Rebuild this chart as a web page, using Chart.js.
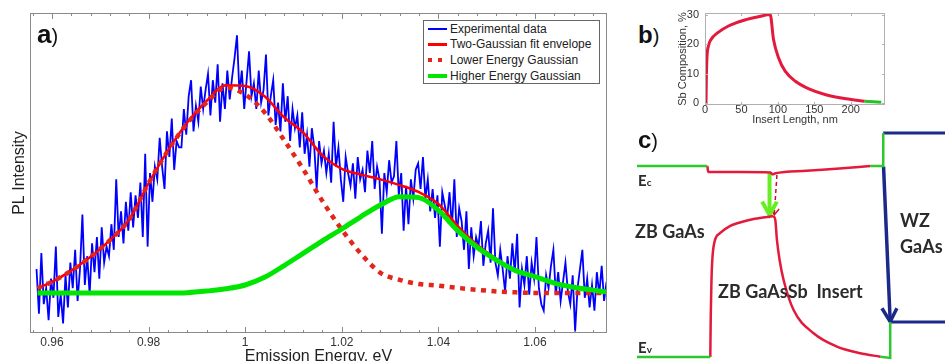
<!DOCTYPE html>
<html lang="en">
<head>
<meta charset="UTF-8">
<title>GaAsSb insert PL</title>
<script src="https://cdn.jsdelivr.net/npm/chart.js@4.4.1/dist/chart.umd.min.js"></script>
<style>
  html, body { margin: 0; padding: 0; background: #fff; }
  body { width: 945px; height: 361px; overflow: hidden; position: relative; font-family: 'Liberation Sans', Arial, sans-serif; }
  canvas { position: absolute; }
  .tag { position: absolute; line-height: 1; color: #111; white-space: nowrap; }
  .lbl { position: absolute; font-family: Lato, 'Open Sans', sans-serif; font-weight: 700; color: #2b2b2b; line-height: 1; white-space: pre; }
  #legend { position: absolute; left: 423px; top: 20px; width: 177px; height: 64px; box-sizing: border-box; border: 1px solid #666; background: #fff; font-size: 12px; color: #222; }
  #legend .row { position: absolute; left: 26px; height: 14px; line-height: 14px; white-space: nowrap; }
  #legend .mark { position: absolute; }
</style>
</head>
<body>

<canvas id="chartA" width="620" height="375" style="left:0;top:0"></canvas>
<canvas id="chartB" width="230" height="130" style="left:665px;top:0"></canvas>
<canvas id="chartC" width="308" height="241" style="left:637px;top:120px"></canvas>

<div id="legend">
  <div class="mark" style="left:4px;top:6.7px;width:19px;height:2px;background:#0000ff"></div>
  <div class="row" style="top:0.7px">Experimental data</div>
  <div class="mark" style="left:4px;top:22px;width:19px;height:2.5px;background:#ff0000"></div>
  <div class="row" style="top:16.3px">Two-Gaussian fit envelope</div>
  <div class="mark" style="left:4px;top:36.9px;width:4px;height:4px;background:#e3261b"></div>
  <div class="mark" style="left:14px;top:36.9px;width:4px;height:4px;background:#e3261b"></div>
  <div class="row" style="top:31.9px">Lower Energy Gaussian</div>
  <div class="mark" style="left:4px;top:52.5px;width:19px;height:4px;background:#00e600"></div>
  <div class="row" style="top:47.5px">Higher Energy Gaussian</div>
</div>

<div class="tag" style="left:37px;top:21px;font-size:26px"><b>a</b><span style="font-size:20px">)</span></div>
<div class="tag" style="left:638px;top:22.7px;font-size:24px"><b>b</b><span style="font-size:20px">)</span></div>
<div class="tag" style="left:638px;top:127.7px;font-size:24px"><b>c</b><span style="font-size:20px">)</span></div>

<div class="lbl" style="left:638px;top:172.5px;font-size:15px">E<span style="font-size:10px">c</span></div>
<div class="lbl" style="left:638px;top:340px;font-size:15px">E<span style="font-size:10px">v</span></div>
<div class="lbl" style="left:635px;top:222.3px;font-size:18px">ZB GaAs</div>
<div class="lbl" style="left:900px;top:210.7px;font-size:18px">WZ</div>
<div class="lbl" style="left:900px;top:237.3px;font-size:18px">GaAs</div>
<div class="lbl" style="left:718px;top:282.3px;font-size:18px">ZB GaAsSb  Insert</div>

<script>
  Chart.defaults.font.family = "'Liberation Sans', Arial, sans-serif";

  // ---- a) PL spectrum ----
  var energyTicks = [0.96, 0.98, 1.00, 1.02, 1.04, 1.06];
  var energyTickLabels = ['0.96', '0.98', '1', '1.02', '1.04', '1.06'];

  // experimental spectrum, one point every 0.5 meV from 0.9568 eV
  var expStart = 0.9568, expStep = 0.0005;
  var expIntensity = [
    20, 6, 25, 9, 14, 4, 17, 11, 27, 5,
    12, 3, 18, 8, 22, 14, 26, 10, 20, 37,
    15, 24, 12, 28, 19, 30, 17, 33, 22, 27,
    24, 34, 26, 48, 30, 38, 28, 41, 32, 44,
    33, 43, 36, 47, 30, 56, 27, 50, 41, 52,
    48, 61, 52, 45, 63, 55, 67, 51, 60, 58,
    58, 70, 62, 74, 79, 63, 71, 66, 77, 70,
    76, 81, 68, 79, 72, 84, 66, 78, 70, 82,
    73, 80, 86, 93, 75, 82, 70, 79, 88, 74,
    78, 70, 82, 72, 76, 87, 68, 74, 79, 65,
    72, 63, 78, 66, 74, 60, 70, 64, 68, 58,
    69, 56, 62, 52, 64, 58, 45, 60, 53, 57,
    50, 56, 47, 66, 52, 58, 48, 41, 55, 50,
    46, 53, 42, 55, 48, 51, 44, 57, 50, 60,
    45, 52, 48, 31, 50, 44, 54, 47, 49, 60,
    43, 50, 32, 46, 34, 48, 42, 51, 53, 45,
    55, 42, 48, 38, 45, 36, 43, 27, 44, 40,
    36, 44, 33, 48, 30, 39, 35, 26, 38, 20,
    33, 24, 30, 27, 35, 21, 28, 32, 22, 39,
    22, 18, 26, 20, 13, 24, 17, 28, 19, 31,
    8, 20, 15, 24, 12, 22, 17, 30, 14, 9,
    7, 18, 14, 21, 26, 12, 19, 10, 16, 22,
    13, 9, 18, 0.5, 14, 20, 26, 11, 17, 8,
    15, 7, 19, 12, 21, 10, 16
  ];

  var fitEnergy = [0.957, 0.960, 0.964, 0.968, 0.972, 0.976, 0.980, 0.984, 0.988, 0.992,
                   0.996, 1.000, 1.004, 1.008, 1.012, 1.016, 1.020, 1.024, 1.028, 1.032,
                   1.036, 1.040, 1.044, 1.048, 1.052, 1.056, 1.060, 1.064, 1.068, 1.072, 1.075];
  var fitEnvelope = [14, 16, 19.5, 23.8, 29, 35.5, 46.8, 57, 65.8, 72.5,
                     77.4, 77.2, 74, 67.5, 62.6, 55.5, 51.3, 49.5, 48, 46.2,
                     44, 40.3, 33.4, 27.6, 23.2, 19.5, 17.6, 15.6, 14.3, 13.4, 12.8];
  var fitLower = [14, 16, 19.5, 23.8, 29, 35.5, 46.8, 57, 65.5, 72,
                  76.7, 74.5, 69, 60.4, 51.2, 41.2, 32.3, 24.7, 18.8, 16.6,
                  15.3, 14.8, 14.1, 13.5, 13, 12.7, 12.5, 12.5, 12.5, 12.5, 12.5];
  var fitHigher = [12.5, 12.5, 12.5, 12.5, 12.5, 12.5, 12.5, 12.5, 12.6, 13.1,
                   13.8, 15.0, 17.4, 21.0, 24.9, 28.8, 32.5, 36.4, 40, 42.6,
                   42.3, 38.3, 32, 26.8, 22.8, 19.5, 17.6, 15.6, 14.3, 13.4, 12.8];

  // ---- b) Sb profile ----
  var insertTicks = [0, 50, 100, 150, 200];
  var sbTicks = [0, 10, 20, 30];
  var sbLength = [1.4, 1.9, 2.8, 4.6, 8.3, 17.6, 31.5, 54.6, 73.1, 89.4, 94, 101, 110, 124, 142.6, 165.7, 193.5, 219];
  var sbComp = [0, 9.1, 15.9, 19.3, 21.6, 23.9, 26.1, 28.2, 29.3, 30.1, 21.6, 15.3, 10.8, 7.4, 4.8, 2.8, 1.4, 0.6];
  var tailLength = [219, 242];
  var tailComp = [0.6, 0.2];

  // ---- c) band diagram: [position nm, energy eV] ----
  var ecZB = [[-99, 1.42], [-4, 1.42]];
  var ecInsert = [[-4, 1.42], [-2.7, 1.375], [40, 1.375], [81, 1.372], [84, 1.358], [88, 1.366], [130, 1.385], [170, 1.40], [216, 1.42]];
  var ecStep = [[216, 1.42], [233.6, 1.42], [233.6, 1.665]];
  var ecWZ = [[233.6, 1.665], [317, 1.665]];
  var evZB = [[-99, 0], [0, 0]];
  var evRise = [[0, 0], [0.6, 0.3], [1.5, 0.55], [2.7, 0.721], [5.4, 0.85], [13.5, 0.922], [27, 0.975], [40, 1.0], [60, 1.027], [85, 1.048]];
  var evFall = [[85, 1.048], [87.8, 1.019], [90, 0.87], [93.6, 0.721], [99, 0.572], [112.5, 0.349], [139.5, 0.176], [171, 0.077], [202.5, 0.028], [229.5, 0.002]];
  var evStep = [[229.5, 0.002], [243, -0.007], [243, 0.26]];
  var evWZ = [[243, 0.26], [317, 0.26]];
  var wzArrow = [[234, 1.415], [243, 0.262]];
  var wzHead = [[231.8, 0.362], [243, 0.262], [252, 0.362]];
  var zbArrow = [[80, 1.366], [80, 1.07]];
  var zbHead = [[70, 1.155], [80, 1.056], [90, 1.155]];
  var sbArrow = [[90, 1.353], [86.4, 1.06]];
  var sbHead = [[82, 1.11], [86.4, 1.056], [93, 1.10]];


  function pts(xs, ys) {
    return xs.map(function (x, i) { return { x: x, y: ys[i] }; });
  }
  function xy(arr) {
    return arr.map(function (p) { return { x: p[0], y: p[1] }; });
  }

  // box round the plot area with small inward ticks
  function framePlugin(cfg) {
    return {
      id: 'frame',
      afterDatasetsDraw: function (chart) {
        var ctx = chart.ctx, a = chart.chartArea, sx = chart.scales.x, sy = chart.scales.y;
        ctx.save();
        ctx.strokeStyle = cfg.color;
        ctx.lineWidth = 1;
        ctx.beginPath();
        cfg.xTicks.forEach(function (t) {
          var p = Math.round(sx.getPixelForValue(t[0])) + 0.5;
          ctx.moveTo(p, a.bottom); ctx.lineTo(p, a.bottom - t[1]);
          ctx.moveTo(p, a.top); ctx.lineTo(p, a.top + t[1]);
        });
        cfg.yTicks.forEach(function (t) {
          var p = Math.round(sy.getPixelForValue(t[0])) + 0.5;
          ctx.moveTo(a.left, p); ctx.lineTo(a.left + t[1], p);
          ctx.moveTo(a.right, p); ctx.lineTo(a.right - t[1], p);
        });
        ctx.stroke();
        ctx.strokeRect(a.left + 0.5, a.top + 0.5, a.right - a.left - 1, a.bottom - a.top - 1);
        ctx.restore();
      }
    };
  }

  var aTicks = [];
  for (var k = 0; k <= 29; k++) {
    var v = 0.956 + k * 0.004;
    var major = energyTicks.some(function (t) { return Math.abs(t - v) < 1e-6; });
    aTicks.push([v, major ? 6 : 3]);
  }

  new Chart(document.getElementById('chartA'), {
    type: 'line',
    data: {
      datasets: [
        { label: 'Higher Energy Gaussian', data: pts(fitEnergy, fitHigher), borderColor: '#00e600', borderWidth: 5, cubicInterpolationMode: 'monotone', order: 0 },
        { label: 'Lower Energy Gaussian', data: pts(fitEnergy, fitLower), borderColor: '#e3261b', borderWidth: 4.5, borderDash: [5, 5.5], cubicInterpolationMode: 'monotone', order: 1 },
        { label: 'Two-Gaussian fit envelope', data: pts(fitEnergy, fitEnvelope), borderColor: '#ff0000', borderWidth: 2.5, cubicInterpolationMode: 'monotone', order: 2 },
        {
          label: 'Experimental data',
          data: expIntensity.map(function (y, i) { return { x: expStart + i * expStep, y: y }; }),
          borderColor: '#0000ff', borderWidth: 1.8, tension: 0, order: 3
        }
      ]
    },
    options: {
      responsive: false,
      animation: false,
      elements: { point: { radius: 0 } },
      layout: { padding: { left: 0, top: 13, right: 13, bottom: 0 } },
      plugins: { legend: { display: false }, tooltip: { enabled: false } },
      scales: {
        x: {
          type: 'linear', min: 0.95545, max: 1.0749,
          grid: { display: false, drawTicks: false },
          border: { display: false },
          afterBuildTicks: function (s) { s.ticks = energyTicks.map(function (v) { return { value: v }; }); },
          afterFit: function (s) { s.height = 42; },
          ticks: {
            padding: 2, color: '#333', font: { size: 12 }, maxRotation: 0,
            callback: function (v, i) { return energyTickLabels[i]; }
          },
          title: { display: true, text: 'Emission Energy, eV', color: '#222', font: { size: 16 }, padding: { top: 0, bottom: 9 } }
        },
        y: {
          min: 0, max: 100,
          grid: { display: false, drawTicks: false },
          border: { display: false },
          ticks: { display: false },
          afterFit: function (s) { s.width = 30; },
          title: { display: true, text: 'PL Intensity', color: '#222', font: { size: 16 }, padding: { top: 10, bottom: 0 } }
        }
      }
    },
    plugins: [framePlugin({ color: '#8a8a8a', xTicks: aTicks, yTicks: [] })]
  });

  new Chart(document.getElementById('chartB'), {
    type: 'line',
    data: {
      datasets: [
        { data: pts(tailLength, tailComp), borderColor: '#21c521', borderWidth: 3 },
        { data: pts(sbLength, sbComp), borderColor: '#e31a3d', borderWidth: 3, cubicInterpolationMode: 'monotone' }
      ]
    },
    options: {
      responsive: false,
      animation: false,
      elements: { point: { radius: 0 } },
      layout: { padding: { left: 0, top: 13, right: 10, bottom: 0 } },
      plugins: { legend: { display: false }, tooltip: { enabled: false } },
      scales: {
        x: {
          type: 'linear', min: 0, max: 247,
          grid: { display: false, drawTicks: false },
          border: { display: false },
          afterBuildTicks: function (s) { s.ticks = insertTicks.map(function (v) { return { value: v }; }); },
          afterFit: function (s) { s.height = 25; },
          ticks: { padding: -2, color: '#333', font: { size: 11 }, maxRotation: 0 },
          title: { display: true, text: 'Insert Length, nm', color: '#333', font: { size: 11 }, padding: { top: 0, bottom: 3 } }
        },
        y: {
          min: -0.7, max: 30.6,
          grid: { display: false, drawTicks: false },
          border: { display: false },
          afterBuildTicks: function (s) { s.ticks = sbTicks.map(function (v) { return { value: v }; }); },
          afterFit: function (s) { s.width = 40; },
          ticks: { padding: 6, color: '#333', font: { size: 11 } },
          title: { display: true, text: 'Sb Composition, %', color: '#333', font: { size: 11 }, padding: { top: 11, bottom: 0 } }
        }
      }
    },
    plugins: [framePlugin({
      color: '#b0b0b0',
      xTicks: insertTicks.map(function (v) { return [v, 3]; }),
      yTicks: sbTicks.map(function (v) { return [v, 3]; })
    })]
  });

  var red = '#e31a3c', green = '#2dc82d', navy = '#1b2a8a';
  function seg(arr, color, width, extra) {
    var d = { data: xy(arr), borderColor: color, borderWidth: width, showLine: true, pointRadius: 0 };
    for (var key in extra) d[key] = extra[key];
    return d;
  }

  new Chart(document.getElementById('chartC'), {
    type: 'scatter',
    data: {
      datasets: [
        seg(ecZB, green, 2.5),
        seg(ecInsert, red, 2.5, { cubicInterpolationMode: 'monotone' }),
        seg(ecStep, green, 2.5),
        seg(ecWZ, navy, 3),
        seg(evZB, green, 2.5),
        seg(evRise, red, 2.5, { cubicInterpolationMode: 'monotone' }),
        seg(evFall, red, 2.5, { cubicInterpolationMode: 'monotone' }),
        seg(evStep, green, 2.5),
        seg(evWZ, navy, 3),
        seg(wzArrow, navy, 3.5),
        seg(wzHead, navy, 3.5),
        seg(zbArrow, '#66ee22', 4),
        seg(zbHead, '#66ee22', 4),
        seg(sbArrow, '#c8102e', 1.5, { borderDash: [4, 3] }),
        seg(sbHead, '#c8102e', 1.5)
      ]
    },
    options: {
      responsive: false,
      animation: false,
      layout: { padding: 0 },
      plugins: { legend: { display: false }, tooltip: { enabled: false } },
      scales: {
        x: { type: 'linear', display: false, min: -99, max: 317 },
        y: { display: false, min: -0.03, max: 1.762 }
      }
    }
  });
</script>

</body>
</html>
